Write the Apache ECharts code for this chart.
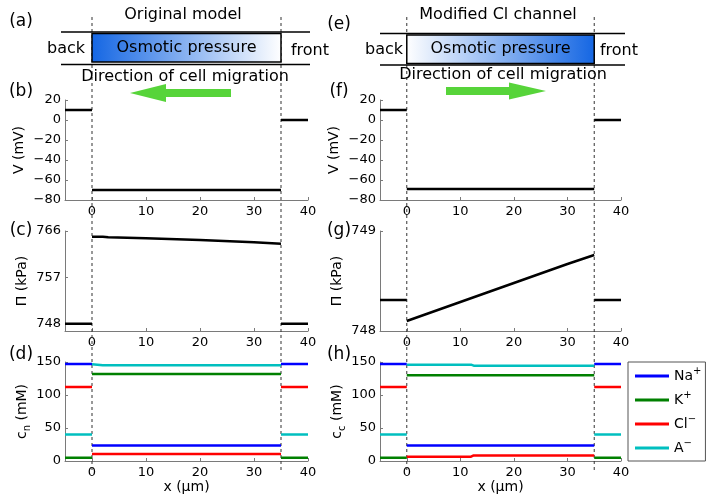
<!DOCTYPE html>
<html><head><meta charset="utf-8">
<script src="https://cdn.jsdelivr.net/npm/echarts@6/dist/echarts.min.js"></script>
<style>html,body{margin:0;padding:0;background:#fff}#c{width:714px;height:502px}</style>
</head><body><div id="c"></div>
<script>
// ---------- data ----------
const xTickLabels = [0, 10, 20, 30, 40];
const xBack = [-5, 0];          // extracellular, back side
const xFront = [35, 40];        // extracellular, front side
const xCell = [0, 35];          // cell
const ionNames = ['Na+', 'K+', 'Cl-', 'A-'];
const ionColors = ['#0000ff', '#008000', '#ff0000', '#00bfbf'];

// (b)/(f) membrane potential V (mV)
const V_back = 10;
const V_front = 0;
const V_cellOrig = -70;
const V_cellMod = -69;

// (c) osmotic pressure, original model (kPa)
const Pi_origOut = 748;
const Pi_origX = [0, 2, 3, 10, 20, 30, 35];
const Pi_origY = [764.9, 764.9, 764.77, 764.58, 764.25, 763.8, 763.54];
// (g) osmotic pressure, modified Cl channel (kPa)
const Pi_modOut = 748.31;
const Pi_modX = [0, 10, 20, 30, 35];
const Pi_modY = [748.10, 748.29, 748.48, 748.67, 748.76];

// (d)/(h) concentrations (mM), order Na, K, Cl, A
const c_out = [147, 5, 112, 40];
const cOrig_NaX = [0, 35], cOrig_NaY = [23.5, 23.5];
const cOrig_KX = [0, 35], cOrig_KY = [132, 132];
const cOrig_ClX = [0, 35], cOrig_ClY = [10.5, 10.5];
const cOrig_AX = [0, 1, 2, 35], cOrig_AY = [146.5, 146, 145, 145];
const cMod_NaX = [0, 35], cMod_NaY = [23.5, 23.5];
const cMod_KX = [0, 35], cMod_KY = [130, 130];
const cMod_ClX = [0, 12, 12.5, 35], cMod_ClY = [6.6, 6.6, 8.5, 8.5];
const cMod_AX = [0, 12, 12.5, 35], cMod_AY = [146, 146, 144.5, 144.5];

// ---------- chart ----------
const FONT = 'DejaVu Sans';
const chart = echarts.init(document.getElementById('c'), null, {renderer: 'canvas'});
const zip = (xs, ys) => xs.map((x, i) => [x, ys[i]]);
const flat = (xs, v) => xs.map(x => [x, v]);

function ser(name, color, idx, data, width) {
  return {type: 'line', name: name, xAxisIndex: idx, yAxisIndex: idx, data: data,
    symbol: 'none', silent: true, animation: false, z: 3,
    lineStyle: {color: color, width: width || 2.5}, itemStyle: {color: color}};
}

const leftG = {left: 65, width: 243};
const rightG = {left: 380, width: 241};
const rows = [{top: 100, height: 100}, {top: 231, height: 100}, {top: 362, height: 99}];
const grids = [];
[leftG, rightG].forEach(c => rows.forEach(r => grids.push({left: c.left, width: c.width, top: r.top, height: r.height})));

const AX = '#7a7a7a';
const minusFmt = v => String(v).replace('-', '\u2212');
const xAxes = grids.map((g, i) => ({
  gridIndex: i, type: 'value', min: -5, max: 40,
  axisLine: {onZero: false, lineStyle: {color: AX, width: 1}}, splitLine: {show: false},
  axisTick: {inside: true, length: 3, lineStyle: {color: AX}, customValues: xTickLabels},
  axisLabel: {customValues: xTickLabels, color: '#000', fontFamily: FONT, fontSize: 13, margin: 5},
  name: (i % 3 === 2) ? 'x (\u03bcm)' : '', nameLocation: 'middle', nameGap: 17,
  nameTextStyle: {color: '#000', fontFamily: FONT, fontSize: 14}
}));
const nameStyle = {color: '#000', fontFamily: FONT, fontSize: 14, lineHeight: 20,
  rich: {sub: {fontFamily: FONT, fontSize: 10, lineHeight: 10, verticalAlign: 'bottom', color: '#000'}}};
function yAx(i, o) {
  return Object.assign({
    gridIndex: i, type: 'value',
    axisLine: {show: true, onZero: false, lineStyle: {color: AX, width: 1}}, splitLine: {show: false},
    axisTick: {show: true, inside: true, length: 3, lineStyle: {color: AX}},
    axisLabel: {color: '#000', fontFamily: FONT, fontSize: 13, margin: 4, formatter: minusFmt},
    nameLocation: 'middle', nameGap: 31, nameRotate: 90, nameTextStyle: nameStyle
  }, o);
}
const yAxes = [
  yAx(0, {min: -80, max: 20, interval: 20, name: 'V (mV)'}),
  yAx(1, {min: 746.6, max: 766, name: '\u03a0 (kPa)',
          axisLabel: {color: '#000', fontFamily: FONT, fontSize: 13, margin: 4, customValues: [748, 757, 766]},
          axisTick: {show: true, inside: true, length: 3, lineStyle: {color: AX}, customValues: [748, 757, 766]}}),
  yAx(2, {min: 0, max: 150, interval: 50, name: 'c{sub|n} (mM)'}),
  yAx(3, {min: -80, max: 20, interval: 20, name: 'V (mV)'}),
  yAx(4, {min: 748, max: 749, interval: 1, name: '\u03a0 (kPa)'}),
  yAx(5, {min: 0, max: 150, interval: 50, name: 'c{sub|c} (mM)'})
];

const series = [];
// V
series.push(ser('V', '#000', 0, flat(xBack, V_back)), ser('V', '#000', 0, flat(xCell, V_cellOrig)), ser('V', '#000', 0, flat(xFront, V_front)));
series.push(ser('V', '#000', 3, flat(xBack, V_back)), ser('V', '#000', 3, flat(xCell, V_cellMod)), ser('V', '#000', 3, flat(xFront, V_front)));
// Pi
series.push(ser('P', '#000', 1, flat(xBack, Pi_origOut)), ser('P', '#000', 1, zip(Pi_origX, Pi_origY)), ser('P', '#000', 1, flat(xFront, Pi_origOut)));
series.push(ser('P', '#000', 4, flat(xBack, Pi_modOut)), ser('P', '#000', 4, zip(Pi_modX, Pi_modY)), ser('P', '#000', 4, flat(xFront, Pi_modOut)));
// concentrations
const origIn = [zip(cOrig_NaX, cOrig_NaY), zip(cOrig_KX, cOrig_KY), zip(cOrig_ClX, cOrig_ClY), zip(cOrig_AX, cOrig_AY)];
const modIn = [zip(cMod_NaX, cMod_NaY), zip(cMod_KX, cMod_KY), zip(cMod_ClX, cMod_ClY), zip(cMod_AX, cMod_AY)];
ionNames.forEach((n, k) => {
  series.push(ser(n, ionColors[k], 2, flat(xBack, c_out[k])), ser(n, ionColors[k], 2, origIn[k]), ser(n, ionColors[k], 2, flat(xFront, c_out[k])));
  series.push(ser(n, ionColors[k], 5, flat(xBack, c_out[k])), ser(n, ionColors[k], 5, modIn[k]), ser(n, ionColors[k], 5, flat(xFront, c_out[k])));
});

const legendRich = {s: {fontFamily: FONT, fontSize: 10, lineHeight: 12, verticalAlign: 'top', color: '#000'}};
chart.setOption({
  animation: false,
  grid: grids,
  xAxis: xAxes,
  yAxis: yAxes,
  series: series,
  legend: {
    data: ionNames.map((n, k) => ({name: n, icon: 'rect', itemStyle: {color: ionColors[k]}})),
    orient: 'vertical', left: 628, top: 362,
    padding: [4, 4, 3, 7], itemWidth: 34, itemHeight: 3, itemGap: 4,
    borderColor: '#555', borderWidth: 1, selectedMode: false,
    formatter: n => n.replace(/([A-Za-z]+)([+-])/, (m, a, b) => a + '{s|' + (b === '-' ? '\u2212' : '+') + '}'),
    textStyle: {color: '#000', fontFamily: FONT, fontSize: 14, lineHeight: 20, rich: legendRich}
  }
});

// ---------- annotations ----------
const px = (axis, v) => chart.convertToPixel({xAxisIndex: axis}, v);
const L0 = px(0, 0), L35 = px(0, 35), R0 = px(3, 0), R35 = px(3, 35);
const txt = (x, y, s, size, align) => ({type: 'text', x: x, y: y, silent: true, z: 10,
  style: {text: s, fill: '#000', font: size + 'px "' + FONT + '"', align: align || 'center', verticalAlign: 'middle'}});
const hline = (x1, x2, y) => ({type: 'line', silent: true, z: 5, shape: {x1: x1, y1: y, x2: x2, y2: y}, style: {stroke: '#000', lineWidth: 1.3}});
const dash = (x) => ({type: 'line', silent: true, z: 1, shape: {x1: x, y1: 17, x2: x, y2: 472}, style: {stroke: '#333', lineWidth: 1, lineDash: [3, 3]}});
const grad = (rev) => ({type: 'linear', x: 0, y: 0, x2: 1, y2: 0, colorStops: [
  {offset: 0, color: rev ? '#ffffff' : '#1466e3'}, {offset: 1, color: rev ? '#1466e3' : '#ffffff'}]});
const green = '#57d43a';
const graphics = [
  dash(L0), dash(L35), dash(R0), dash(R35),
  hline(61, 310, 32), hline(61, 310, 64.5),
  hline(380, 625, 33.5), hline(380, 625, 65),
  {type: 'rect', silent: true, z: 6, shape: {x: L0, y: 33.5, width: L35 - L0, height: 28.5}, style: {fill: grad(false), stroke: '#000', lineWidth: 1.5}},
  {type: 'rect', silent: true, z: 6, shape: {x: R0, y: 35, width: R35 - R0, height: 28.5}, style: {fill: grad(true), stroke: '#000', lineWidth: 1.5}},
  txt((L0 + L35) / 2, 48, 'Osmotic pressure', 16),
  txt((R0 + R35) / 2, 49, 'Osmotic pressure', 16),
  txt(183, 15, 'Original model', 16),
  txt(498, 15, 'Modified Cl channel', 16),
  txt(66, 49, 'back', 16), txt(310, 51, 'front', 16),
  txt(384, 50, 'back', 16), txt(619, 51, 'front', 16),
  txt(185, 77, 'Direction of cell migration', 16),
  txt(503, 75, 'Direction of cell migration', 16),
  {type: 'polygon', silent: true, z: 6, shape: {points: [[130, 93], [166, 84], [166, 89], [231, 89], [231, 97], [166, 97], [166, 102]]}, style: {fill: green}},
  {type: 'polygon', silent: true, z: 6, shape: {points: [[546, 91], [509, 82.5], [509, 87], [446, 87], [446, 95], [509, 95], [509, 99.5]]}, style: {fill: green}},
  txt(21, 22, '(a)', 17), txt(21, 92, '(b)', 17), txt(21, 231, '(c)', 17), txt(21, 355, '(d)', 17),
  txt(339, 25, '(e)', 17), txt(339, 92, '(f)', 17), txt(339, 231, '(g)', 17), txt(339, 355, '(h)', 17)
];
chart.setOption({graphic: graphics});
</script></body></html>
